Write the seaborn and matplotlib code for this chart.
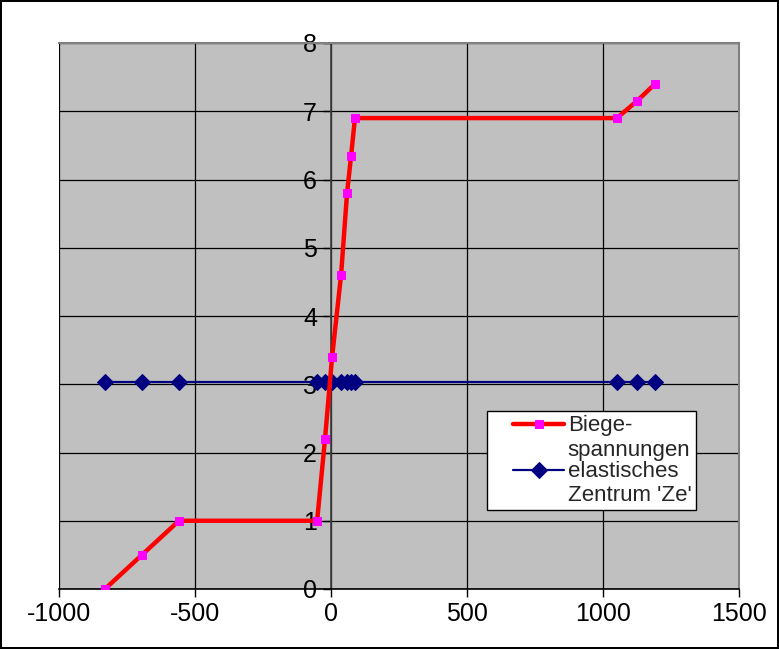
import matplotlib
matplotlib.use("Agg")
import matplotlib.pyplot as plt
import matplotlib.transforms as mtransforms
from matplotlib.legend_handler import HandlerLine2D
import seaborn as sns
import pandas as pd

# Biegespannungen (x = stress, y = height)
stress_x = [-831, -695, -559, -51, -22, 4, 37, 59, 74, 88, 1051, 1125, 1191]
height_y = [0.0, 0.5, 1.0, 1.0, 2.2, 3.4, 4.6, 5.8, 6.35, 6.9, 6.9, 7.15, 7.4]
# elastisches Zentrum 'Ze' (same x values, constant height)
ze_y = 3.03

label_bs = "Biege-\nspannungen"
label_ze = "elastisches\nZentrum 'Ze'"

df_bs = pd.DataFrame({"x": stress_x, "y": height_y})
df_ze = pd.DataFrame({"x": stress_x, "y": [ze_y] * len(stress_x)})

sns.set_style("white")
plt.rcParams["font.family"] = ["Liberation Sans", "DejaVu Sans"]
plt.rcParams["axes.unicode_minus"] = False


class FirstLineHandler(HandlerLine2D):
    # Excel puts the legend key next to the first text line and indents it a bit
    def create_artists(self, legend, orig_handle, xdescent, ydescent, width, height,
                       fontsize, trans):
        shift = mtransforms.Affine2D().translate(0, fontsize * 0.62 * 100 / 72)
        arts = super().create_artists(legend, orig_handle, xdescent, ydescent, width,
                                      height, fontsize, trans + shift)
        for a in arts:
            xs = list(a.get_xdata())
            x0, x1 = xs[0], xs[-1]
            x0 = x0 + (x1 - x0) * 0.3
            if len(xs) == 3:
                a.set_xdata([x0, (x0 + x1) / 2, x1])
            elif len(xs) == 2:
                a.set_xdata([x0, x1])
            else:
                a.set_xdata([(x0 + x1) / 2])
        return arts


fig = plt.figure(figsize=(7.79, 6.49), dpi=100, edgecolor="black", linewidth=1.5)
ax = fig.add_axes([59 / 779, 1 - 589 / 649, 680 / 779, 546 / 649])
ax.set_facecolor("#C0C0C0")

sns.lineplot(data=df_bs, x="x", y="y", sort=False, ax=ax, color="#FF0000", lw=3.2,
             marker="s", markersize=5.5, markerfacecolor="#FF00FF", markeredgecolor="#FF00FF",
             label=label_bs, zorder=3)
sns.lineplot(data=df_ze, x="x", y="y", sort=False, ax=ax, color="#000080", lw=1.6,
             marker="D", markersize=8, markerfacecolor="#000080", markeredgecolor="#000080",
             label=label_ze, zorder=2)

ax.set_xlim(-1000, 1500)
ax.set_ylim(0, 8)
ax.set_xticks(range(-1000, 1501, 500))
ax.set_yticks(range(0, 9))
ax.grid(True, color="black", lw=0.9)
ax.set_axisbelow(True)
ax.set_xlabel("")
ax.set_ylabel("")

ax.spines["left"].set_position(("data", 0))
ax.spines["left"].set_color("#404040")
ax.spines["left"].set_linewidth(1.2)
ax.spines["bottom"].set_color("black")
ax.spines["bottom"].set_linewidth(1.2)
for s in ("top", "right"):
    ax.spines[s].set_color("#808080")
    ax.spines[s].set_linewidth(1.5)

ax.tick_params(axis="both", labelsize=18, labelcolor="black", length=6, width=1,
               color="black", direction="out", left=True, bottom=True)
ax.tick_params(axis="y", pad=4)

handles, labels = ax.get_legend_handles_labels()
leg = ax.legend(handles, labels, loc="upper left", bbox_to_anchor=(0.629, 0.326),
                borderaxespad=0, fontsize=16, frameon=True, fancybox=False,
                edgecolor="black", framealpha=1, handlelength=3.3, handletextpad=0.15,
                labelspacing=0.0, borderpad=0.2,
                handler_map={h: FirstLineHandler() for h in handles})
leg.get_frame().set_linewidth(1)

fig.savefig("out.png", dpi=100)
